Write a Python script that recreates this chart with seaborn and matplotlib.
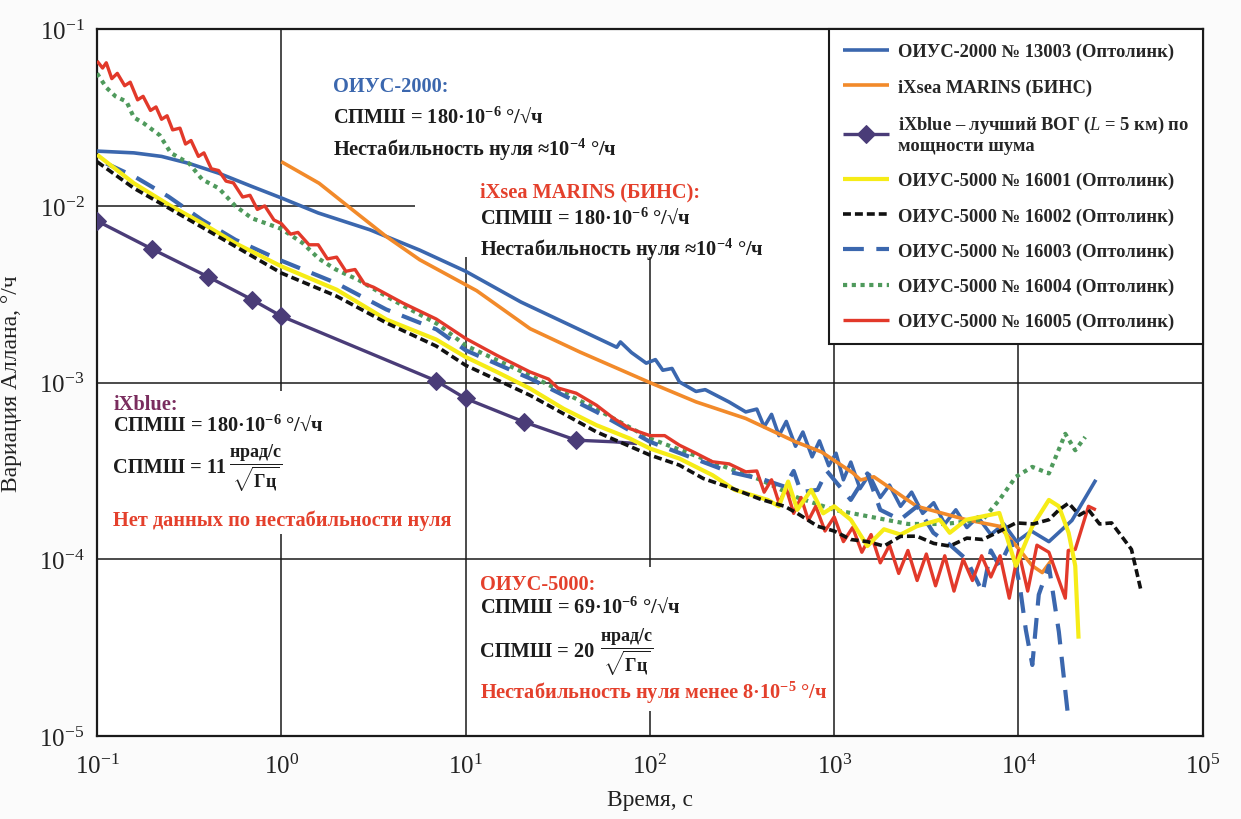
import numpy as np
import pandas as pd
import matplotlib
matplotlib.use("Agg")
import matplotlib.pyplot as plt
from matplotlib.patches import Rectangle
import seaborn as sns

# ---------------- data (log10 of time, s / log10 of Allan deviation, deg/h) ----------------
oius2000_lgt = [-1.0,-0.8,-0.65,-0.5,-0.34,-0.16,0.0,0.2,0.48,0.75,1.0,1.3,1.53,1.78,1.82,1.84,1.9,1.98,2.03,2.07,
                2.12,2.16,2.25,2.3,2.43,2.52,2.58,2.62,2.66,2.70,2.74,2.79,2.83,2.88,2.92,2.97,3.01,3.05,3.09,3.14,
                3.19,3.25,3.30,3.36,3.42,3.48,3.54,3.60,3.66,3.72,3.78,3.85,3.92,3.99,4.07,4.165,4.29,4.42]
oius2000_lgs = [-1.69,-1.70,-1.72,-1.76,-1.815,-1.89,-1.955,-2.04,-2.135,-2.25,-2.37,-2.544,-2.657,-2.78,-2.80,-2.77,-2.83,-2.89,-2.87,-2.93,
                -2.92,-2.996,-3.05,-3.04,-3.11,-3.166,-3.15,-3.25,-3.18,-3.30,-3.22,-3.36,-3.28,-3.42,-3.33,-3.47,-3.40,-3.55,-3.45,-3.60,
                -3.52,-3.65,-3.58,-3.70,-3.62,-3.74,-3.68,-3.80,-3.72,-3.82,-3.76,-3.86,-3.80,-3.90,-3.84,-3.90,-3.78,-3.55]

marins_lgt = [0.0,0.205,0.387,0.569,0.751,1.06,1.35,1.62,2.0,2.25,2.52,2.79,2.93,3.1,3.143,3.215,3.448,3.717,3.896,4.004,4.075,4.129,4.183]
marins_lgs = [-1.75,-1.872,-2.023,-2.173,-2.305,-2.48,-2.695,-2.827,-3.0,-3.109,-3.203,-3.335,-3.392,-3.51,-3.551,-3.533,-3.70,-3.776,-3.813,-3.944,-4.037,-4.075,-4.0]

ixblue_lgt = [-1.0,-0.70,-0.40,-0.16,0.0,0.84,1.0,1.315,1.60,1.80,1.93]
ixblue_lgs = [-2.085,-2.245,-2.40,-2.53,-2.624,-2.99,-3.09,-3.222,-3.326,-3.335,-3.345]

s16001_lgt = [-1.0,-0.8,-0.61,-0.43,-0.25,0.0,0.3,0.57,0.84,1.0,1.17,1.35,1.53,1.71,1.89,2.0,2.16,2.34,2.46,2.64,
              2.70,2.75,2.80,2.875,2.94,3.0,3.09,3.18,3.27,3.36,3.448,3.573,3.627,3.717,3.806,3.896,3.986,4.075,4.165,4.219,
              4.272,4.308,4.326]
s16001_lgs = [-1.71,-1.872,-1.994,-2.098,-2.211,-2.342,-2.474,-2.643,-2.756,-2.855,-2.94,-3.034,-3.147,-3.241,-3.316,-3.373,-3.43,-3.524,-3.607,-3.664,
              -3.70,-3.56,-3.72,-3.607,-3.74,-3.70,-3.776,-3.925,-3.83,-3.86,-3.813,-3.776,-3.85,-3.776,-3.757,-3.738,-4.037,-3.813,-3.664,-3.70,
              -3.85,-4.037,-4.449]

s16002_lgt = [-1.0,-0.8,-0.61,-0.25,0.0,0.3,0.57,0.84,1.0,1.35,1.71,2.0,2.16,2.29,2.45,2.6,2.731,2.8,2.91,3.0,
              3.09,3.18,3.27,3.36,3.448,3.54,3.627,3.72,3.806,3.9,3.986,4.08,4.165,4.22,4.272,4.33,4.38,4.44,4.505,4.56,
              4.613,4.667]
s16002_lgs = [-1.75,-1.90,-2.013,-2.229,-2.38,-2.511,-2.662,-2.793,-2.902,-3.072,-3.279,-3.41,-3.467,-3.543,-3.60,-3.66,-3.70,-3.74,-3.813,-3.84,
              -3.888,-3.90,-3.925,-3.87,-3.869,-3.91,-3.925,-3.88,-3.888,-3.84,-3.794,-3.80,-3.776,-3.72,-3.682,-3.75,-3.72,-3.80,-3.794,-3.87,
              -3.944,-4.187]

s16003_lgt = [-0.95,-0.795,-0.613,-0.431,-0.249,0.0,0.296,0.569,0.842,1.0,1.35,1.71,2.0,2.43,2.62,2.731,2.78,2.82,2.91,2.96,
              3.09,3.18,3.25,3.358,3.45,3.538,3.63,3.717,3.806,3.85,3.896,3.96,4.007,4.04,4.075,4.11,4.165,4.219,4.272]
s16003_lgs = [-1.76,-1.835,-1.947,-2.079,-2.192,-2.31,-2.436,-2.586,-2.699,-2.817,-2.977,-3.166,-3.335,-3.505,-3.55,-3.589,-3.50,-3.62,-3.607,-3.50,
              -3.664,-3.514,-3.72,-3.776,-3.70,-3.85,-3.92,-4.0,-4.187,-3.95,-4.037,-3.90,-4.15,-4.4,-4.598,-4.2,-4.037,-4.41,-4.916]

s16004_lgt = [-1.0,-0.95,-0.9,-0.84,-0.8,-0.75,-0.66,-0.6,-0.5,-0.43,-0.34,-0.25,-0.16,0.0,0.115,0.205,0.296,0.42,0.6,0.85,
              1.0,1.35,1.71,2.0,2.43,2.6,2.8,3.0,3.2,3.4,3.6,3.806,3.896,3.986,4.075,4.165,4.254,4.308,4.362]
s16004_lgs = [-1.25,-1.33,-1.38,-1.41,-1.50,-1.53,-1.60,-1.70,-1.76,-1.85,-1.90,-2.00,-2.07,-2.13,-2.21,-2.30,-2.36,-2.42,-2.53,-2.67,
              -2.79,-2.96,-3.15,-3.316,-3.486,-3.55,-3.65,-3.72,-3.76,-3.80,-3.80,-3.776,-3.664,-3.533,-3.477,-3.514,-3.29,-3.383,-3.308]

s16005_lgt = [-1.0,-0.97,-0.95,-0.92,-0.89,-0.85,-0.82,-0.78,-0.75,-0.71,-0.68,-0.65,-0.62,-0.59,-0.55,-0.52,-0.49,-0.45,-0.42,-0.38,
              -0.34,-0.30,-0.26,-0.21,-0.17,-0.13,-0.09,-0.04,0.0,0.05,0.09,0.15,0.2,0.25,0.3,0.35,0.4,0.45,0.5,0.66,
              0.84,1.0,1.17,1.35,1.45,1.5,1.6,1.71,1.8,1.89,2.0,2.08,2.16,2.25,2.34,2.43,2.52,2.58,2.62,2.66,
              2.70,2.74,2.78,2.82,2.86,2.90,2.95,3.0,3.05,3.10,3.15,3.2,3.25,3.3,3.35,3.4,3.45,3.5,3.55,3.6,
              3.65,3.7,3.75,3.8,3.85,3.9,3.95,4.0,4.05,4.1,4.165,4.254,4.27,4.308,4.38,4.42]
s16005_lgs = [-1.18,-1.22,-1.19,-1.28,-1.25,-1.32,-1.30,-1.40,-1.38,-1.46,-1.44,-1.51,-1.49,-1.57,-1.56,-1.65,-1.63,-1.72,-1.70,-1.79,
              -1.80,-1.86,-1.87,-1.95,-1.94,-2.02,-2.00,-2.08,-2.10,-2.16,-2.15,-2.22,-2.22,-2.30,-2.29,-2.37,-2.36,-2.44,-2.46,-2.55,
              -2.64,-2.75,-2.846,-2.94,-2.98,-3.03,-3.06,-3.128,-3.20,-3.26,-3.30,-3.30,-3.354,-3.40,-3.448,-3.46,-3.505,-3.50,-3.62,-3.55,
              -3.68,-3.60,-3.74,-3.65,-3.78,-3.70,-3.84,-3.76,-3.90,-3.82,-3.96,-3.86,-4.02,-3.92,-4.08,-3.95,-4.12,-3.97,-4.15,-3.98,
              -4.18,-4.0,-4.12,-3.98,-4.10,-3.98,-4.22,-3.95,-4.18,-3.92,-3.96,-4.22,-3.95,-3.944,-3.70,-3.72]

labels = [
    "ОИУС-2000 № 13003 (Оптолинк)",
    "iXsea MARINS (БИНС)",
    "iXblue – лучший ВОГ ($\\mathit{L}$ = 5 км) по\nмощности шума",
    "ОИУС-5000 № 16001 (Оптолинк)",
    "ОИУС-5000 № 16002 (Оптолинк)",
    "ОИУС-5000 № 16003 (Оптолинк)",
    "ОИУС-5000 № 16004 (Оптолинк)",
    "ОИУС-5000 № 16005 (Оптолинк)",
]
xticks = [1e-1, 1e0, 1e1, 1e2, 1e3, 1e4, 1e5]
yticks = [1e-5, 1e-4, 1e-3, 1e-2, 1e-1]

# ---------------- style ----------------
sns.set_theme(style="white")
plt.rcParams['font.family'] = ['Liberation Serif', 'DejaVu Serif']
plt.rcParams['mathtext.fontset'] = 'custom'
plt.rcParams['mathtext.rm'] = 'Liberation Serif'
plt.rcParams['mathtext.it'] = 'Liberation Serif:italic'
plt.rcParams['mathtext.bf'] = 'Liberation Serif:bold'

BLUE = "#3b67ae"
ORANGE = "#f28a2a"
PURPLE = "#4a3c78"
YELLOW = "#f6ec17"
BLACK = "#111111"
GREEN = "#4f9a5c"
RED = "#e2392a"

fig = plt.figure(figsize=(12.41, 8.2), dpi=100)
fig.patch.set_facecolor("#fbfbfb")
ax = fig.add_axes([0.0782, 0.1012, 0.891, 0.862])
ax.set_facecolor("white")
ax.set_xscale('log')
ax.set_yscale('log')

series = [
    ("o2000", oius2000_lgt, oius2000_lgs, BLUE, 2.6, '-', 3.0, 0),
    ("marins", marins_lgt, marins_lgs, ORANGE, 2.6, '-', 3.1, 1),
    ("ixblue", ixblue_lgt, ixblue_lgs, PURPLE, 2.4, '-', 3.2, 2),
    ("s16004", s16004_lgt, s16004_lgs, GREEN, 3.0, (0, (1.0, 1.1)), 3.3, 6),
    ("s16003", s16003_lgt, s16003_lgs, BLUE, 3.0, (0, (5.0, 3.0)), 3.4, 5),
    ("s16005", s16005_lgt, s16005_lgs, RED, 2.4, '-', 3.5, 7),
    ("s16001", s16001_lgt, s16001_lgs, YELLOW, 3.0, '-', 3.6, 3),
    ("s16002", s16002_lgt, s16002_lgs, BLACK, 2.6, (0, (2.2, 1.1)), 3.7, 4),
]

handles = {}
for key, lgt, lgs, color, lw, ls, z, li in series:
    df = pd.DataFrame({"t": 10 ** np.array(lgt), "s": 10 ** np.array(lgs)})
    kw = {}
    if key == "ixblue":
        kw = dict(marker='D', markersize=9, markevery=list(range(9)),
                  markerfacecolor=PURPLE, markeredgecolor=PURPLE)
    sns.lineplot(data=df, x="t", y="s", ax=ax, color=color, linewidth=lw,
                 sort=False, estimator=None, label=labels[li], zorder=z, **kw)
    line = ax.lines[-1]
    line.set_linestyle(ls)
    line.set_solid_capstyle('butt')
    line.set_dash_capstyle('butt')
    handles[li] = line

ax.set_xlim(1e-1, 1e5)
ax.set_ylim(1e-5, 1e-1)
ax.set_xticks(xticks)
ax.set_yticks(yticks)
ax.minorticks_off()
ax.tick_params(axis='both', length=0, labelsize=18, colors="#222222")
ax.tick_params(axis='x', pad=13)
ax.tick_params(axis='y', pad=9)
ax.grid(True, which='major', color='#1a1a1a', linewidth=1.1)
ax.set_axisbelow(True)
for sp in ax.spines.values():
    sp.set_color('#1a1a1a')
    sp.set_linewidth(1.6)

ax.set_xlabel("Время, с", fontsize=17, color="#222222", labelpad=8)
ax.set_ylabel("Вариация Аллана, °/ч", fontsize=17, color="#222222", labelpad=12)

# white backgrounds of the annotation blocks (they hide the grid as in the original)
for (x0, y0, w, h) in [(0.2016, 0.809, 0.4594, 0.191), (0.2875, 0.6775, 0.3735, 0.1315),
                       (0.0072, 0.2857, 0.3137, 0.2023), (0.3354, 0.0354, 0.3137, 0.2037)]:
    ax.add_patch(Rectangle((x0, y0), w, h, transform=ax.transAxes,
                           facecolor='white', edgecolor='none', zorder=1.2))

tk = dict(transform=ax.transAxes, fontsize=14.7, fontweight='bold', va='center', ha='left', zorder=1.5)
fk = dict(tk)
fk['fontsize'] = 13.0
DARK = "#1c1c1c"
MAG = "#7a2d5e"
TRED = "#e4402c"

ax.text(0.2134, 0.919, "ОИУС-2000:", color=BLUE, **tk)
ax.text(0.2134, 0.877, "СПМШ = 180·10$^{\\mathbf{-6}}$ °/√ч", color=DARK, **tk)
ax.text(0.2134, 0.830, "Нестабильность нуля ≈10$^{\\mathbf{-4}}$ °/ч", color=DARK, **tk)

ax.text(0.3463, 0.771, "iXsea MARINS (БИНС):", color=TRED, **tk)
ax.text(0.3463, 0.733, "СПМШ = 180·10$^{\\mathbf{-6}}$ °/√ч", color=DARK, **tk)
ax.text(0.3463, 0.689, "Нестабильность нуля ≈10$^{\\mathbf{-4}}$ °/ч", color=DARK, **tk)

ax.text(0.0145, 0.4696, "iXblue:", color=MAG, **tk)
ax.text(0.0145, 0.4413, "СПМШ = 180·10$^{\\mathbf{-6}}$ °/√ч", color=DARK, **tk)
t1 = ax.text(0.0145, 0.3800, "СПМШ = 11", color=DARK, **tk)
ax.annotate("$\\dfrac{\\mathbf{нрад/с}}{\\sqrt{\\mathbf{Гц}}}$", xy=(1.0, 0.5), xycoords=t1,
            xytext=(2, 0), textcoords='offset points', va='center', ha='left',
            fontsize=13.0, fontweight='bold', color=DARK, zorder=1.5)
ax.text(0.0145, 0.3055, "Нет данных по нестабильности нуля", color=TRED, **tk)

ax.text(0.3463, 0.215, "ОИУС-5000:", color=TRED, **tk)
ax.text(0.3463, 0.1839, "СПМШ = 69·10$^{\\mathbf{-6}}$ °/√ч", color=DARK, **tk)
t2 = ax.text(0.3463, 0.1200, "СПМШ = 20", color=DARK, **tk)
ax.annotate("$\\dfrac{\\mathbf{нрад/с}}{\\sqrt{\\mathbf{Гц}}}$", xy=(1.0, 0.5), xycoords=t2,
            xytext=(4, 0), textcoords='offset points', va='center', ha='left',
            fontsize=13.0, fontweight='bold', color=DARK, zorder=1.5)
ax.text(0.3463, 0.0620, "Нестабильность нуля менее 8·10$^{\\mathbf{-5}}$ °/ч", color=TRED, **tk)

leg = ax.legend([handles[i] for i in range(8)], labels, loc='upper right',
                bbox_to_anchor=(1.0, 1.0), borderaxespad=0.0, frameon=True,
                fancybox=False, framealpha=1.0, edgecolor='#1a1a1a',
                prop={'weight': 'bold', 'size': 13.3}, handlelength=2.5,
                handletextpad=0.45, labelspacing=0.97, borderpad=0.75)
leg.get_frame().set_linewidth(1.5)
leg.set_zorder(10)

fig.savefig("out.png", dpi=100, facecolor=fig.get_facecolor())
